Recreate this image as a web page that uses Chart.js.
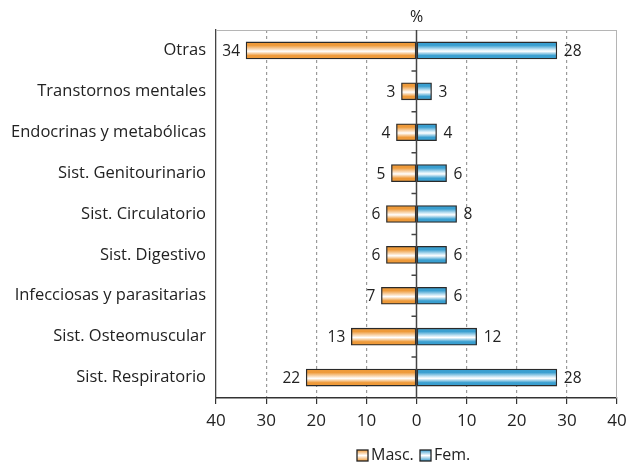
<!DOCTYPE html>
<html>
<head>
<meta charset="utf-8">
<script src="https://cdn.jsdelivr.net/npm/chart.js@4"></script>
<style>
  html, body { margin: 0; padding: 0; background: #fff; }
  #wrap { width: 627px; height: 463px; }
</style>
</head>
<body>
<div id="wrap"><canvas id="grafico"></canvas></div>
<script>
// Datos del gráfico
var categorias = ['Otras', 'Transtornos mentales', 'Endocrinas y metabólicas', 'Sist. Genitourinario',
  'Sist. Circulatorio', 'Sist. Digestivo', 'Infecciosas y parasitarias', 'Sist. Osteomuscular', 'Sist. Respiratorio'];
var masc = [34, 3, 4, 5, 6, 6, 7, 13, 22];
var fem = [28, 3, 4, 6, 8, 6, 6, 12, 28];
var ticksX = [-40, -30, -20, -10, 0, 10, 20, 30, 40];
var series = ['Masc.', 'Fem.'];

var fuente = "'Open Sans', 'DejaVu Sans', sans-serif";
var grosorBarra = 17;

// Degradado vertical de cada barra (color arriba/abajo, blanco al centro)
function degradado(ctx, color, claro) {
  var chart = ctx.chart;
  var y = chart.scales.y;
  if (ctx.type !== 'data' || !y) return color;
  var yc = y.getPixelForValue(ctx.dataIndex);
  if (!isFinite(yc)) return color;
  var g = chart.ctx.createLinearGradient(0, yc - grosorBarra / 2, 0, yc + grosorBarra / 2);
  g.addColorStop(0, color);
  g.addColorStop(0.2, color);
  g.addColorStop(0.45, claro);
  g.addColorStop(0.55, '#ffffff');
  g.addColorStop(0.8, color);
  g.addColorStop(1, color);
  return g;
}

var naranja = '#ee9a3a', naranjaClaro = '#fbe1c4';
var azul = '#3a9fd0', azulClaro = '#cfe9f6';

// Cuadro de la leyenda
function cuadroLeyenda(c, x, y, color) {
  var g = c.createLinearGradient(0, y, 0, y + 11);
  g.addColorStop(0, color);
  g.addColorStop(0.5, '#ffffff');
  g.addColorStop(1, color);
  c.fillStyle = g;
  c.fillRect(x, y, 11, 11);
  c.strokeStyle = '#222';
  c.lineWidth = 1.3;
  c.strokeRect(x, y, 11, 11);
}

// Líneas extra: marco, eje en cero, etiquetas, "%" y leyenda
var lineasExtra = {
  id: 'lineasExtra',
  beforeDatasetsDraw: function (chart) {
    var a = chart.chartArea, c = chart.ctx;
    c.save();
    c.strokeStyle = '#b5b5b5';
    c.lineWidth = 1;
    c.beginPath();
    c.moveTo(a.left, a.top + 0.5); c.lineTo(a.right, a.top + 0.5);
    c.moveTo(a.right - 0.5, a.top); c.lineTo(a.right - 0.5, a.bottom);
    c.stroke();
    c.restore();
  },
  afterDatasetsDraw: function (chart) {
    var a = chart.chartArea, c = chart.ctx;
    var x0 = chart.scales.x.getPixelForValue(0);
    var y = chart.scales.y;
    c.save();
    c.strokeStyle = '#444';
    c.lineWidth = 1.5;
    c.beginPath();
    c.moveTo(x0, a.top); c.lineTo(x0, a.bottom);
    for (var i = 1; i < categorias.length; i++) {
      var yb = (y.getPixelForValue(i - 1) + y.getPixelForValue(i)) / 2;
      c.moveTo(x0 - 5, yb); c.lineTo(x0, yb);
    }
    c.stroke();
    // etiquetas de valores
    c.fillStyle = '#222';
    c.font = '15.5px ' + fuente;
    c.textBaseline = 'middle';
    chart.getDatasetMeta(0).data.forEach(function (bar, i) {
      c.textAlign = 'right';
      c.fillText(String(masc[i]), bar.x - 6, bar.y + 1);
    });
    chart.getDatasetMeta(1).data.forEach(function (bar, i) {
      c.textAlign = 'left';
      c.fillText(String(fem[i]), bar.x + 7, bar.y + 1);
    });
    c.font = '16px ' + fuente;
    c.textAlign = 'center';
    c.fillText('%', x0, 17);
    // leyenda
    c.font = '16px ' + fuente;
    c.textAlign = 'left';
    var ly = 455;
    cuadroLeyenda(c, 357, ly - 5, naranja);
    c.fillStyle = '#222';
    c.fillText(series[0], 371, ly);
    cuadroLeyenda(c, 420, ly - 5, azul);
    c.fillStyle = '#222';
    c.fillText(series[1], 434, ly);
    c.restore();
  }
};

var ctx = document.getElementById('grafico').getContext('2d');
new Chart(ctx, {
  type: 'bar',
  data: {
    labels: categorias,
    datasets: [{
      label: series[0],
      data: masc.map(function (v) { return -v; }),
      backgroundColor: function (c) { return degradado(c, naranja, naranjaClaro); },
      borderColor: '#2a2a2a',
      borderWidth: 1.3,
      borderSkipped: false,
      barThickness: grosorBarra
    }, {
      label: series[1],
      data: fem,
      backgroundColor: function (c) { return degradado(c, azul, azulClaro); },
      borderColor: '#2a2a2a',
      borderWidth: 1.3,
      borderSkipped: false,
      barThickness: grosorBarra
    }]
  },
  options: {
    indexAxis: 'y',
    responsive: true,
    maintainAspectRatio: false,
    animation: false,
    layout: { padding: { left: 0, right: 10, top: 30, bottom: 0 } },
    scales: {
      x: {
        stacked: true,
        min: -40,
        max: 40,
        afterBuildTicks: function (s) { s.ticks = ticksX.map(function (v) { return { value: v }; }); },
        afterFit: function (s) { s.height = 65; s.paddingLeft = 0; s.paddingRight = 0; },
        ticks: {
          color: '#222',
          font: { family: fuente, size: 17 },
          padding: 7,
          callback: function (v) { return Math.abs(v); }
        },
        grid: {
          color: function (c) {
            var v = c.tick ? c.tick.value : 0;
            return (v === 0 || Math.abs(v) === 40) ? 'rgba(0,0,0,0)' : '#9a9a9a';
          },
          lineWidth: 1.2,
          tickColor: '#333',
          tickLength: 6,
          tickBorderDash: [0, 0],
          drawTicks: true
        },
        border: { display: true, color: '#333', width: 1.5, dash: [3, 3] }
      },
      y: {
        stacked: true,
        afterFit: function (s) { s.width = 216; },
        ticks: {
          color: '#222',
          font: { family: fuente, size: 16.5 },
          padding: 10
        },
        grid: { display: false, drawTicks: false },
        border: { display: true, color: '#444', width: 1.3 }
      }
    },
    plugins: {
      legend: { display: false },
      tooltip: { enabled: false }
    }
  },
  plugins: [lineasExtra]
});
</script>
</body>
</html>
